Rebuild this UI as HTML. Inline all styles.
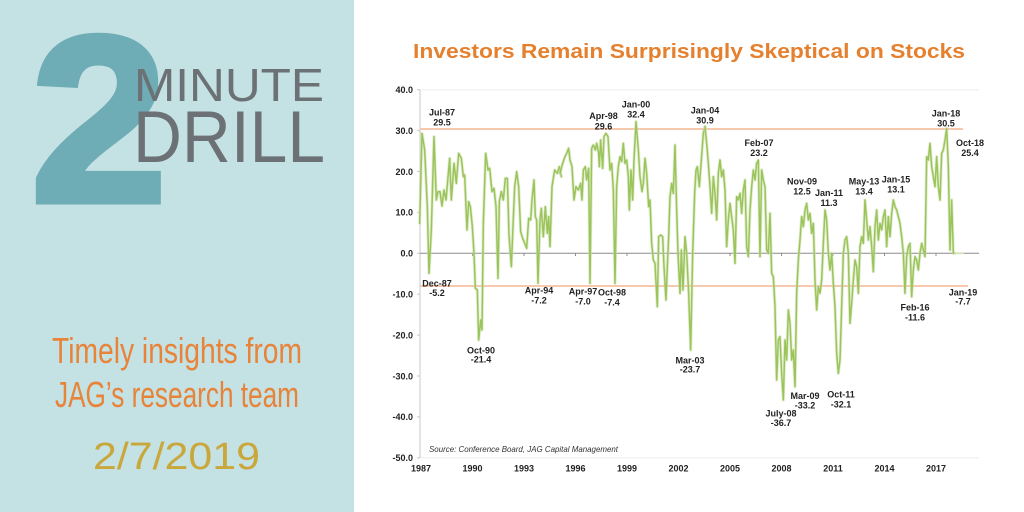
<!DOCTYPE html>
<html>
<head>
<meta charset="utf-8">
<style>
  html,body{margin:0;padding:0;background:#ffffff;}
  body{width:1024px;height:512px;overflow:hidden;}
  svg{display:block;}
  .ax{font-family:"Liberation Sans",Arial,sans-serif;font-size:9px;font-weight:bold;fill:#222;}
  .an{font-family:"Liberation Sans",Arial,sans-serif;font-size:9px;font-weight:bold;fill:#222;text-anchor:middle;}
</style>
</head>
<body>
<svg width="1024" height="512" viewBox="0 0 1024 512" xmlns="http://www.w3.org/2000/svg">
  <!-- left panel -->
  <rect x="0" y="0" width="354" height="512" fill="#c4e1e3"/>
  <text x="31" y="201" font-family="Liberation Sans, Arial, sans-serif" font-weight="bold" font-size="236" fill="#6eadb5" stroke="#6eadb5" stroke-width="7" stroke-linejoin="miter" textLength="136" lengthAdjust="spacingAndGlyphs">2</text>
  <text x="134" y="101" font-family="Liberation Sans, Arial, sans-serif" font-size="46" fill="#6b7175" textLength="190" lengthAdjust="spacingAndGlyphs">MINUTE</text>
  <text x="133" y="162" font-family="Liberation Sans, Arial, sans-serif" font-size="73" fill="#6b7175" textLength="192" lengthAdjust="spacingAndGlyphs">DRILL</text>
  <text x="52" y="363" font-family="Liberation Sans Narrow, Liberation Sans, Arial, sans-serif" font-size="36" fill="#e8833a" textLength="250" lengthAdjust="spacingAndGlyphs">Timely insights from</text>
  <text x="55" y="407" font-family="Liberation Sans Narrow, Liberation Sans, Arial, sans-serif" font-size="36" fill="#e8833a" textLength="244" lengthAdjust="spacingAndGlyphs">JAG’s research team</text>
  <text x="93" y="469" font-family="Liberation Sans, Arial, sans-serif" font-size="38" fill="#c9a73a" textLength="167" lengthAdjust="spacingAndGlyphs">2/7/2019</text>

  <!-- title -->
  <text x="413" y="58" font-family="Liberation Sans, Arial, sans-serif" font-weight="bold" font-size="20" fill="#e5802e" textLength="552" lengthAdjust="spacingAndGlyphs">Investors Remain Surprisingly Skeptical on Stocks</text>

  <!-- grid / axes -->
  <line x1="420" y1="89.7" x2="979" y2="89.7" stroke="#eeeeee" stroke-width="1"/>
  <line x1="420" y1="457.8" x2="979" y2="457.8" stroke="#eeeeee" stroke-width="1"/>
  <line x1="420" y1="89.7" x2="420" y2="458" stroke="#c8c8c8" stroke-width="1"/>
  <g stroke="#c8c8c8" stroke-width="1">
    <line x1="417" y1="89.7" x2="420" y2="89.7"/>
    <line x1="417" y1="130.6" x2="420" y2="130.6"/>
    <line x1="417" y1="171.5" x2="420" y2="171.5"/>
    <line x1="417" y1="212.4" x2="420" y2="212.4"/>
    <line x1="417" y1="253.3" x2="420" y2="253.3"/>
    <line x1="417" y1="294.2" x2="420" y2="294.2"/>
    <line x1="417" y1="335.1" x2="420" y2="335.1"/>
    <line x1="417" y1="376" x2="420" y2="376"/>
    <line x1="417" y1="416.9" x2="420" y2="416.9"/>
    <line x1="417" y1="457.8" x2="420" y2="457.8"/>
  </g>
  <!-- orange reference lines -->
  <line x1="420" y1="129" x2="963" y2="129" stroke="#f6c9ae" stroke-width="2"/>
  <line x1="420" y1="286" x2="968" y2="286" stroke="#f6c9ae" stroke-width="2"/>
  <!-- zero line -->
  <line x1="420" y1="253.3" x2="979" y2="253.3" stroke="#8c8c8c" stroke-width="1"/>
  <g stroke="#8c8c8c" stroke-width="1">
    <line x1="472.5" y1="253.3" x2="472.5" y2="256"/>
    <line x1="524" y1="253.3" x2="524" y2="256"/>
    <line x1="575.5" y1="253.3" x2="575.5" y2="256"/>
    <line x1="627" y1="253.3" x2="627" y2="256"/>
    <line x1="678.5" y1="253.3" x2="678.5" y2="256"/>
    <line x1="730" y1="253.3" x2="730" y2="256"/>
    <line x1="781.5" y1="253.3" x2="781.5" y2="256"/>
    <line x1="833" y1="253.3" x2="833" y2="256"/>
    <line x1="884.5" y1="253.3" x2="884.5" y2="256"/>
    <line x1="936" y1="253.3" x2="936" y2="256"/>
  </g>

  <!-- y labels -->
  <g class="ax" text-anchor="end">
    <text x="413" y="93">40.0</text>
    <text x="413" y="133.9">30.0</text>
    <text x="413" y="174.8">20.0</text>
    <text x="413" y="215.7">10.0</text>
    <text x="413" y="256.6">0.0</text>
    <text x="413" y="297.5">-10.0</text>
    <text x="413" y="338.4">-20.0</text>
    <text x="413" y="379.3">-30.0</text>
    <text x="413" y="420.2">-40.0</text>
    <text x="413" y="461.1">-50.0</text>
  </g>
  <!-- x labels -->
  <g class="an">
    <text x="421" y="471.5">1987</text>
    <text x="472.5" y="471.5">1990</text>
    <text x="524" y="471.5">1993</text>
    <text x="575.5" y="471.5">1996</text>
    <text x="627" y="471.5">1999</text>
    <text x="678.5" y="471.5">2002</text>
    <text x="730" y="471.5">2005</text>
    <text x="781.5" y="471.5">2008</text>
    <text x="833" y="471.5">2011</text>
    <text x="884.5" y="471.5">2014</text>
    <text x="936" y="471.5">2017</text>
  </g>

  <!-- data series -->
  <g fill="none" stroke-linejoin="round" stroke-linecap="round">
    <g transform="translate(418,120) scale(0.33333)">
      <polyline vector-effect="non-scaling-stroke" stroke="#cfe3b0" stroke-width="3.2" opacity="0.6" points="5,310 12,40 20,90 28,260 33,460 40,330 48,50 55,240 60,215 66,215 72,258 78,210 84,240 88,195 95,115 100,240 108,130 115,190 122,100 130,115 136,170 140,165 147,330 152,245 157,260 163,320 168,400 172,505 178,510 182,660 188,600 192,630 196,310 203,100 210,150 215,145 222,215 228,205 234,260 240,475 244,245 250,215 256,240 262,175 268,175 273,345 280,440 290,200 296,155 302,200 308,335 314,355 320,370 326,385 332,295 338,300 342,240 348,180 352,290 356,300 360,490 366,300 370,265 376,350 382,260 388,340 392,290 396,380 402,200 410,150 418,160 424,140 430,170"/>
      <polyline vector-effect="non-scaling-stroke" stroke="#9cc45c" stroke-width="1.5" points="5,310 12,40 20,90 28,260 33,460 40,330 48,50 55,240 60,215 66,215 72,258 78,210 84,240 88,195 95,115 100,240 108,130 115,190 122,100 130,115 136,170 140,165 147,330 152,245 157,260 163,320 168,400 172,505 178,510 182,660 188,600 192,630 196,310 203,100 210,150 215,145 222,215 228,205 234,260 240,475 244,245 250,215 256,240 262,175 268,175 273,345 280,440 290,200 296,155 302,200 308,335 314,355 320,370 326,385 332,295 338,300 342,240 348,180 352,290 356,300 360,490 366,300 370,265 376,350 382,260 388,340 392,290 396,380 402,200 410,150 418,160 424,140 430,170"/>
    </g>
    <g transform="translate(560,120) scale(0.33333)">
      <polyline vector-effect="non-scaling-stroke" stroke="#cfe3b0" stroke-width="3.2" opacity="0.6" points="0,160 8,130 15,110 20,100 26,85 30,120 36,140 42,240 48,200 55,210 62,190 66,240 70,150 76,140 80,180 86,145 90,490 95,85 100,75 106,90 110,70 116,100 118,140 122,60 128,145 132,50 138,40 144,50 150,150 155,130 160,210 165,490 170,200 175,140 180,110 185,125 190,70 195,130 200,120 205,170 208,270 213,150 218,240 222,120 228,5 235,90 240,170 246,215 250,190 255,115 260,160 266,260 270,240 275,370 280,420 285,430 292,560 296,350 302,345 308,350 312,440 318,540 322,440 326,350 330,230 335,190 340,220 345,75 350,270 354,400 360,520 364,390 369,510 375,350 380,400 386,520 392,690 398,400 404,220 408,150 412,140 418,200 424,120 430,40 435,20"/>
      <polyline vector-effect="non-scaling-stroke" stroke="#9cc45c" stroke-width="1.5" points="0,160 8,130 15,110 20,100 26,85 30,120 36,140 42,240 48,200 55,210 62,190 66,240 70,150 76,140 80,180 86,145 90,490 95,85 100,75 106,90 110,70 116,100 118,140 122,60 128,145 132,50 138,40 144,50 150,150 155,130 160,210 165,490 170,200 175,140 180,110 185,125 190,70 195,130 200,120 205,170 208,270 213,150 218,240 222,120 228,5 235,90 240,170 246,215 250,190 255,115 260,160 266,260 270,240 275,370 280,420 285,430 292,560 296,350 302,345 308,350 312,440 318,540 322,440 326,350 330,230 335,190 340,220 345,75 350,270 354,400 360,520 364,390 369,510 375,350 380,400 386,520 392,690 398,400 404,220 408,150 412,140 418,200 424,120 430,40 435,20"/>
    </g>
    <g transform="translate(700,120) scale(0.33333)">
      <polyline vector-effect="non-scaling-stroke" stroke="#cfe3b0" stroke-width="3.2" opacity="0.6" points="15,20 20,70 25,130 30,200 35,280 40,170 45,220 50,300 55,160 60,120 65,170 70,150 75,210 80,380 85,300 90,250 95,290 100,330 105,430 110,230 115,240 120,220 125,280 130,210 135,180 140,380 145,410 150,270 155,200 160,150 165,180 170,130 175,120 180,410 185,150 190,180 195,200 200,390 205,400 210,280 215,460 220,470 225,560 230,780 235,660 240,650 245,760 250,840 255,660 260,720 265,570 270,610 275,720 280,690 285,800 290,520 295,420 300,360 305,290 310,320 315,270 320,250 325,300 330,280 335,340 340,310 345,480 350,570 355,500 360,520 365,480 370,370 375,270 380,300 385,400 390,450 395,400 400,490 405,560 410,700 415,760 420,720 425,560 430,400 435,360"/>
      <polyline vector-effect="non-scaling-stroke" stroke="#9cc45c" stroke-width="1.5" points="15,20 20,70 25,130 30,200 35,280 40,170 45,220 50,300 55,160 60,120 65,170 70,150 75,210 80,380 85,300 90,250 95,290 100,330 105,430 110,230 115,240 120,220 125,280 130,210 135,180 140,380 145,410 150,270 155,200 160,150 165,180 170,130 175,120 180,410 185,150 190,180 195,200 200,390 205,400 210,280 215,460 220,470 225,560 230,780 235,660 240,650 245,760 250,840 255,660 260,720 265,570 270,610 275,720 280,690 285,800 290,520 295,420 300,360 305,290 310,320 315,270 320,250 325,300 330,280 335,340 340,310 345,480 350,570 355,500 360,520 365,480 370,370 375,270 380,300 385,400 390,450 395,400 400,490 405,560 410,700 415,760 420,720 425,560 430,400 435,360"/>
    </g>
    <g transform="translate(840,120) scale(0.33333)">
      <polyline vector-effect="non-scaling-stroke" stroke="#cfe3b0" stroke-width="3.2" opacity="0.6" points="15,360 20,350 25,400 30,610 35,550 40,480 45,420 50,440 55,520 60,380 65,350 70,370 75,240 80,300 85,360 90,320 95,380 100,455 105,320 110,270 115,360 120,310 125,330 130,290 135,270 140,380 145,290 150,350 155,280 160,240 165,260 170,270 175,290 180,310 185,350 190,400 195,520 200,410 205,380 210,370 215,530 220,450 225,410 230,420 235,450 240,400 245,370 250,390 255,410 260,110 265,120 270,70 275,140 280,170 285,200 290,110 295,200 300,240 305,100 310,90 315,60 320,25 325,140 330,390 335,240 340,400 345,400"/>
      <polyline vector-effect="non-scaling-stroke" stroke="#9cc45c" stroke-width="1.5" points="15,360 20,350 25,400 30,610 35,550 40,480 45,420 50,440 55,520 60,380 65,350 70,370 75,240 80,300 85,360 90,320 95,380 100,455 105,320 110,270 115,360 120,310 125,330 130,290 135,270 140,380 145,290 150,350 155,280 160,240 165,260 170,270 175,290 180,310 185,350 190,400 195,520 200,410 205,380 210,370 215,530 220,450 225,410 230,420 235,450 240,400 245,370 250,390 255,410 260,110 265,120 270,70 275,140 280,170 285,200 290,110 295,200 300,240 305,100 310,90 315,60 320,25 325,140 330,390 335,240 340,400 345,400"/>
      <polyline vector-effect="non-scaling-stroke" stroke="#cfe3b0" stroke-width="1.5" points="345,400 370,400"/>
    </g>
  </g>

  <!-- annotations (top) -->
  <g class="an">
    <text x="442" y="115.3">Jul-87</text><text x="442" y="125.3">29.5</text>
    <text x="603.5" y="119">Apr-98</text><text x="603.5" y="129.3">29.6</text>
    <text x="636" y="107.3">Jan-00</text><text x="636" y="117.3">32.4</text>
    <text x="705" y="113.3">Jan-04</text><text x="705" y="123.3">30.9</text>
    <text x="759" y="146">Feb-07</text><text x="759" y="156">23.2</text>
    <text x="802" y="184.3">Nov-09</text><text x="802" y="194.3">12.5</text>
    <text x="829" y="196">Jan-11</text><text x="829" y="206">11.3</text>
    <text x="864" y="184.3">May-13</text><text x="864" y="194.3">13.4</text>
    <text x="896" y="182.3">Jan-15</text><text x="896" y="192.3">13.1</text>
    <text x="946" y="116.3">Jan-18</text><text x="946" y="126.3">30.5</text>
    <text x="970" y="146">Oct-18</text><text x="970" y="156">25.4</text>
  </g>
  <!-- annotations (bottom) -->
  <g class="an">
    <text x="437" y="286.6">Dec-87</text><text x="437" y="296">-5.2</text>
    <text x="481" y="353.3">Oct-90</text><text x="481" y="362.6">-21.4</text>
    <text x="539" y="293.3">Apr-94</text><text x="539" y="303.3">-7.2</text>
    <text x="583" y="294.6">Apr-97</text><text x="583" y="304.3">-7.0</text>
    <text x="612" y="295.6">Oct-98</text><text x="612" y="305.3">-7.4</text>
    <text x="690" y="363.3">Mar-03</text><text x="690" y="372.6">-23.7</text>
    <text x="781" y="416.6">July-08</text><text x="781" y="426">-36.7</text>
    <text x="805" y="399">Mar-09</text><text x="805" y="408.3">-33.2</text>
    <text x="841" y="397.6">Oct-11</text><text x="841" y="407.3">-32.1</text>
    <text x="915" y="310.6">Feb-16</text><text x="915" y="320.3">-11.6</text>
    <text x="963" y="295.3">Jan-19</text><text x="963" y="304.6">-7.7</text>
  </g>

  <!-- source -->
  <text x="429" y="452" font-family="Liberation Sans, Arial, sans-serif" font-style="italic" font-size="8" fill="#333" textLength="189" lengthAdjust="spacingAndGlyphs">Source: Conference Board, JAG Capital Management</text>
</svg>
</body>
</html>
